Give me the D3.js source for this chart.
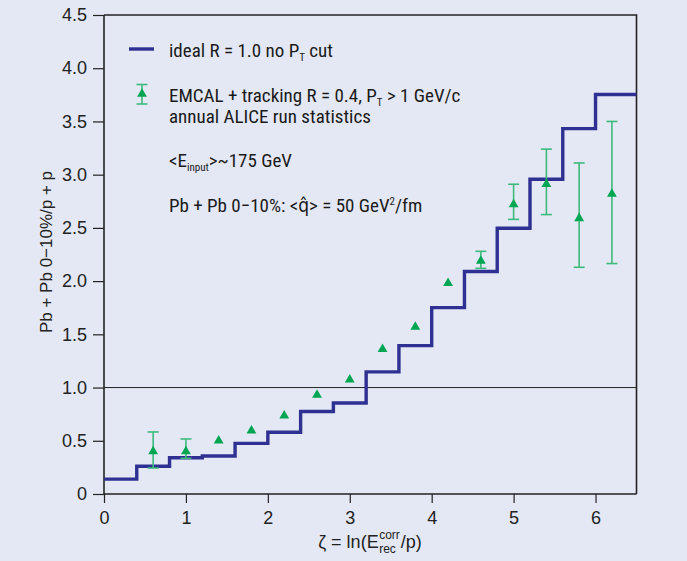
<!DOCTYPE html>
<html><head><meta charset="utf-8">
<script src="https://cdn.jsdelivr.net/npm/d3@7"></script>
<style>
body{margin:0;background:#e4e8f4;}
svg{display:block;}
</style></head>
<body><svg id="c" width="687" height="561"></svg>
<script>
// ---- data ----
const binEdges = [0, 0.4, 0.8, 1.2, 1.6, 2.0, 2.4, 2.8, 3.2, 3.6, 4.0, 4.4, 4.8, 5.2, 5.6, 6.0, 6.5];
const idealValues = [0.14, 0.26, 0.34, 0.357, 0.476, 0.58, 0.775, 0.855, 1.147, 1.394, 1.751, 2.09, 2.497, 2.957, 3.433, 3.753];
const pointX = [0.6, 1.0, 1.4, 1.8, 2.2, 2.6, 3.0, 3.4, 3.8, 4.2, 4.6, 5.0, 5.4, 5.8, 6.2];
const pointY = [0.40, 0.40, 0.50, 0.595, 0.736, 0.93, 1.075, 1.36, 1.57, 1.98, 2.19, 2.72, 2.91, 2.59, 2.82];
const errLow  = [0.244, 0.335, null, null, null, null, null, null, null, null, 2.12, 2.58, 2.625, 2.13, 2.165];
const errHigh = [0.583, 0.517, null, null, null, null, null, null, null, null, 2.28, 2.91, 3.24, 3.11, 3.50];
const xTicks = [0, 1, 2, 3, 4, 5, 6];
const yTicks = [0, 0.5, 1.0, 1.5, 2.0, 2.5, 3.0, 3.5, 4.0, 4.5];

const BLUE = "#2e3192", GREEN = "#00a651", EGREEN = "#3dba7c";
const tickFont = "'Liberation Sans', Arial, sans-serif";
const legFont = "'Liberation Sans Narrow', 'Roboto Condensed', 'DejaVu Sans Condensed', sans-serif";

const svg = d3.select("#c");
svg.append("rect").attr("width", 687).attr("height", 561).attr("fill", "#e4e8f4");

const x = d3.scaleLinear().domain([0, 6.5]).range([104, 636.5]);
const y = d3.scaleLinear().domain([0, 4.5]).range([494, 15]);

// frame (top & right)
svg.append("path")
  .attr("d", `M${x(0)},${y(4.5)}H${x(6.5)}V${y(0)}`)
  .attr("fill", "none").attr("stroke", "#222").attr("stroke-width", 1.6);

// reference line at 1
svg.append("line").attr("x1", x(0)).attr("x2", x(6.5)).attr("y1", y(1)).attr("y2", y(1))
  .attr("stroke", "#222").attr("stroke-width", 1);

// axes
const yAxis = d3.axisLeft(y).tickValues(yTicks).tickSize(11).tickPadding(6)
  .tickFormat(d => d === 0 ? "0" : d3.format(".1f")(d));
const gy = svg.append("g").attr("transform", `translate(${x(0)},0)`).call(yAxis);
const xAxis = d3.axisBottom(x).tickValues(xTicks).tickSize(9).tickPadding(8).tickFormat(d3.format("d"));
const gx = svg.append("g").attr("transform", `translate(0,${y(0)})`).call(xAxis);
[gx, gy].forEach(g => {
  g.select(".domain").attr("stroke", "#222").attr("stroke-width", 1.6);
  g.selectAll(".tick line").attr("stroke", "#222").attr("stroke-width", 1.2);
  g.selectAll(".tick text").attr("fill", "#222").style("font-family", tickFont).style("font-size", "18px");
});
gy.select(".domain").attr("d", `M0,${y(4.5)}V${y(0)}`);
gx.select(".domain").attr("d", `M${x(0)},0H${x(6.5)}`);

// step line
const stepPts = [];
idealValues.forEach((v, i) => { stepPts.push([binEdges[i], v]); stepPts.push([binEdges[i + 1], v]); });
svg.append("path")
  .attr("d", d3.line().x(d => x(d[0])).y(d => y(d[1]))(stepPts))
  .attr("fill", "none").attr("stroke", BLUE).attr("stroke-width", 3.4).attr("stroke-linejoin", "miter");

// error bars
const eb = svg.append("g");
pointX.forEach((px, i) => {
  if (errLow[i] == null) return;
  const cx = x(px);
  eb.append("line").attr("x1", cx).attr("x2", cx).attr("y1", y(errLow[i])).attr("y2", y(errHigh[i]))
    .attr("stroke", EGREEN).attr("stroke-width", 1.6);
  [errLow[i], errHigh[i]].forEach(v => eb.append("line")
    .attr("x1", cx - 5.5).attr("x2", cx + 5.5).attr("y1", y(v)).attr("y2", y(v))
    .attr("stroke", EGREEN).attr("stroke-width", 1.6));
});
// triangles
const tri = d3.symbol().type(d3.symbolTriangle).size(42);
svg.append("g").selectAll("path").data(pointX).join("path")
  .attr("d", tri)
  .attr("transform", (d, i) => `translate(${x(d)},${y(pointY[i])})`)
  .attr("fill", GREEN);

// legend
const leg = svg.append("g").style("font-family", legFont).style("font-size", "19px").attr("fill", "#1a1a1a");
leg.append("line").attr("x1", 129).attr("x2", 154).attr("y1", 49).attr("y2", 49)
  .attr("stroke", BLUE).attr("stroke-width", 3.4);
leg.append("line").attr("x1", 142).attr("x2", 142).attr("y1", 84.5).attr("y2", 104)
  .attr("stroke", EGREEN).attr("stroke-width", 1.6);
[84.5, 104].forEach(v => leg.append("line").attr("x1", 136.5).attr("x2", 147.5).attr("y1", v).attr("y2", v)
  .attr("stroke", EGREEN).attr("stroke-width", 1.6));
leg.append("path").attr("d", tri).attr("transform", "translate(142,94)").attr("fill", GREEN);

function richText(g, xx, yy, parts) {
  const t = g.append("text").attr("x", xx).attr("y", yy);
  let shift = 0;
  parts.forEach(p => {
    const s = t.append("tspan").text(p.t);
    const target = p.sub ? 4 : p.sup ? -7 : 0;
    if (target !== shift) { s.attr("dy", target - shift); shift = target; }
    if (p.sub || p.sup) s.style("font-size", "11px");
  });
  return t;
}
richText(leg, 169, 57, [{t: "ideal R = 1.0 no P"}, {t: "T", sub: 1}, {t: " cut"}]);
richText(leg, 169, 102, [{t: "EMCAL + tracking R = 0.4, P"}, {t: "T", sub: 1}, {t: " > 1 GeV/c"}]);
leg.append("text").attr("x", 169).attr("y", 123).text("annual ALICE run statistics");
richText(leg, 169, 167, [{t: "<E"}, {t: "input", sub: 1}, {t: ">~175 GeV"}]);
richText(leg, 169, 212, [{t: "Pb + Pb 0\u221210%: <q\u0302> = 50 GeV"}, {t: "2", sup: 1}, {t: "/fm"}]);

// y title
svg.append("text").attr("transform", "translate(52,252) rotate(-90)")
  .attr("text-anchor", "middle").style("font-family", tickFont).style("font-size", "17px").attr("fill", "#222")
  .text("Pb + Pb 0\u221210%/p + p");

// x title with stacked super/subscript
const xt = svg.append("g").style("font-family", tickFont).attr("fill", "#222");
const t1 = xt.append("text").attr("x", 0).attr("y", 548).style("font-size", "18px").text("\u03b6 = ln(E");
const w1 = t1.node().getComputedTextLength();
const tsup = xt.append("text").attr("x", w1 + 0.5).attr("y", 539).style("font-size", "12px").text("corr");
const tsub = xt.append("text").attr("x", w1 + 0.5).attr("y", 553).style("font-size", "12px").text("rec");
const w2 = Math.max(tsup.node().getComputedTextLength(), tsub.node().getComputedTextLength());
const t3 = xt.append("text").attr("x", w1 + w2 + 1.5).attr("y", 548).style("font-size", "18px").text("/p)");
const wTot = w1 + w2 + 1.5 + t3.node().getComputedTextLength();
xt.attr("transform", `translate(${370 - wTot / 2},0)`);
</script></body></html>
